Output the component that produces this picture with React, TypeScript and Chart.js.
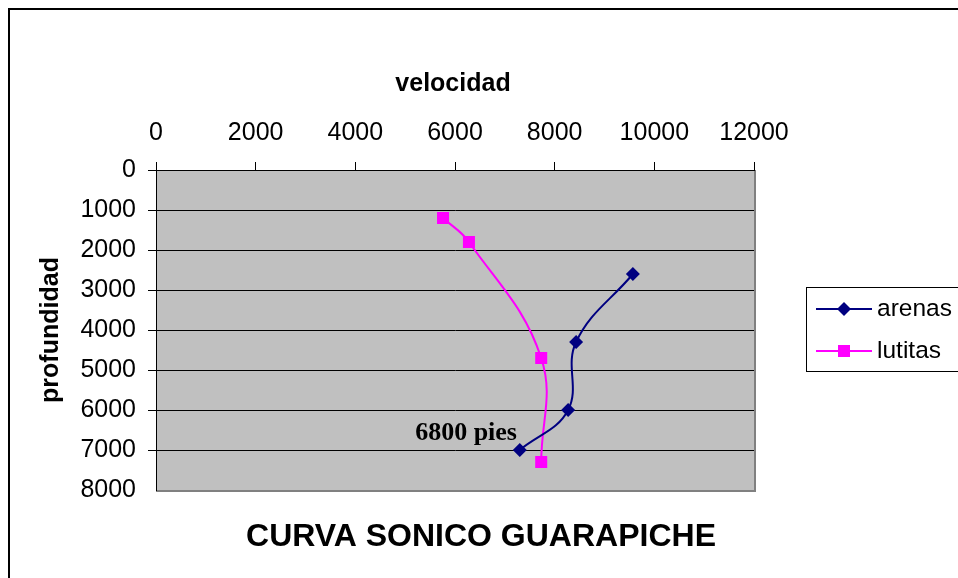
import React, { useEffect, useRef } from "react";
import { Chart, registerables } from "chart.js";

Chart.register(...registerables);

const xTitle = "velocidad";
const yTitle = "profundidad";
const chartTitle = "CURVA SONICO GUARAPICHE";
const annotationText = "6800 pies";
const seriesNames = ["arenas", "lutitas"];

const arenasVel = [9570, 8430, 8270, 7300];
const arenasDepth = [2600, 4300, 6000, 7000];
const lutitasVel = [5760, 6280, 7730, 7730];
const lutitasDepth = [1200, 1800, 4700, 7300];

const xMin = 0, xMax = 12000, xStep = 2000;
const yMin = 0, yMax = 8000, yStep = 1000;
const annotationAt = { x: 5200, y: 6750 };

const NAVY = "#000080";
const MAGENTA = "#FF00FF";
const SANS = "'Liberation Sans', Arial, sans-serif";
const SERIF = "'Liberation Serif', 'Times New Roman', serif";

export default function App() {
  const ref = useRef<HTMLCanvasElement | null>(null);

  useEffect(() => {
    if (!ref.current) return;
    const toPts = (xs: number[], ys: number[]) => xs.map((x, i) => ({ x, y: ys[i] }));

    const decor = {
      id: "decor",
      beforeDraw(chart: any) {
        const { ctx, chartArea: a } = chart;
        ctx.save();
        ctx.fillStyle = "#ffffff";
        ctx.fillRect(0, 0, chart.width, chart.height);
        ctx.fillStyle = "#C0C0C0";
        ctx.fillRect(a.left, a.top, a.right - a.left, a.bottom - a.top);
        ctx.strokeStyle = "#808080";
        ctx.lineWidth = 2;
        ctx.beginPath();
        ctx.moveTo(a.right + 1, a.top);
        ctx.lineTo(a.right + 1, a.bottom + 1);
        ctx.lineTo(a.left, a.bottom + 1);
        ctx.stroke();
        ctx.strokeStyle = "#000000";
        ctx.lineWidth = 2;
        ctx.beginPath();
        ctx.moveTo(9, chart.height);
        ctx.lineTo(9, 9);
        ctx.lineTo(chart.width, 9);
        ctx.stroke();
        ctx.restore();
      },
      afterDraw(chart: any) {
        const { ctx, chartArea: a, scales } = chart;
        ctx.save();
        ctx.fillStyle = "#000";
        ctx.font = `bold 25px ${SANS}`;
        ctx.textAlign = "center";
        ctx.textBaseline = "middle";
        ctx.fillText(xTitle, 453, 84);
        ctx.save();
        ctx.translate(51, (a.top + a.bottom) / 2);
        ctx.rotate(-Math.PI / 2);
        ctx.fillText(yTitle, 0, 0);
        ctx.restore();
        ctx.font = `bold 32px ${SANS}`;
        ctx.fillText(chartTitle, 481, 537);
        ctx.font = `bold 26px ${SERIF}`;
        ctx.textAlign = "left";
        ctx.textBaseline = "alphabetic";
        ctx.fillText(annotationText, scales.x.getPixelForValue(annotationAt.x), scales.y.getPixelForValue(annotationAt.y));
        ctx.strokeStyle = "#000";
        ctx.lineWidth = 1;
        ctx.strokeRect(806.5, 287.5, 200, 84);
        const rows = [
          { y: 309, color: NAVY, style: "rectRot", r: 7, label: seriesNames[0] },
          { y: 351, color: MAGENTA, style: "rect", r: 8.5, label: seriesNames[1] },
        ];
        rows.forEach((row) => {
          ctx.strokeStyle = row.color;
          ctx.lineWidth = 2;
          ctx.beginPath();
          ctx.moveTo(816, row.y);
          ctx.lineTo(872, row.y);
          ctx.stroke();
          ctx.fillStyle = row.color;
          ctx.beginPath();
          if (row.style === "rectRot") {
            ctx.moveTo(844, row.y - row.r);
            ctx.lineTo(844 + row.r, row.y);
            ctx.lineTo(844, row.y + row.r);
            ctx.lineTo(844 - row.r, row.y);
            ctx.closePath();
          } else {
            const s = row.r * Math.SQRT1_2;
            ctx.rect(844 - s, row.y - s, 2 * s, 2 * s);
          }
          ctx.fill();
          ctx.fillStyle = "#000";
          ctx.font = `24.5px ${SANS}`;
          ctx.textAlign = "left";
          ctx.textBaseline = "middle";
          ctx.fillText(row.label, 877, row.y);
        });
        ctx.restore();
      },
    };

    const fmt = (v: any) => String(v);

    const chart = new Chart(ref.current, {
      type: "scatter",
      data: {
        datasets: [
          {
            label: seriesNames[0],
            data: toPts(arenasVel, arenasDepth),
            showLine: true,
            borderColor: NAVY,
            backgroundColor: NAVY,
            borderWidth: 2,
            pointStyle: "rectRot",
            pointRadius: 7,
            pointBorderWidth: 0,
            tension: 0.4,
          },
          {
            label: seriesNames[1],
            data: toPts(lutitasVel, lutitasDepth),
            showLine: true,
            borderColor: MAGENTA,
            backgroundColor: MAGENTA,
            borderWidth: 2,
            pointStyle: "rect",
            pointRadius: 8.5,
            pointBorderWidth: 0,
            tension: 0.4,
          },
        ],
      },
      options: {
        animation: false,
        responsive: false,
        maintainAspectRatio: false,
        layout: { padding: { left: 0, top: 0, right: 204, bottom: 88 } },
        plugins: { legend: { display: false }, tooltip: { enabled: false }, title: { display: false } },
        scales: {
          x: {
            type: "linear",
            position: "top",
            min: xMin,
            max: xMax,
            afterFit: (s: any) => { s.height = 170; },
            ticks: { stepSize: xStep, color: "#000", font: { size: 25, family: SANS }, padding: 14, maxRotation: 0, callback: fmt },
            grid: { drawOnChartArea: false, drawTicks: true, tickLength: 8, color: "#000", lineWidth: 1 },
            border: { display: true, color: "#000", width: 1 },
          },
          y: {
            type: "linear",
            position: "left",
            min: yMin,
            max: yMax,
            reverse: true,
            afterFit: (s: any) => { s.width = 156; },
            ticks: { stepSize: yStep, color: "#000", font: { size: 25, family: SANS }, padding: 12, callback: fmt },
            grid: {
              drawOnChartArea: true,
              drawTicks: true,
              tickLength: 8,
              color: (c: any) => (c.tick && c.tick.value === yMax ? "rgba(0,0,0,0)" : "#000"),
              lineWidth: 1,
            },
            border: { display: true, color: "#000", width: 1 },
          },
        },
      },
      plugins: [decor],
    } as any);
    return () => chart.destroy();
  }, []);

  return (
    <div style={{ position: "fixed", left: 0, top: 0, width: 958, height: 578 }}>
      <canvas ref={ref} width={958} height={578} style={{ width: 958, height: 578, display: "block" }} />
    </div>
  );
}
